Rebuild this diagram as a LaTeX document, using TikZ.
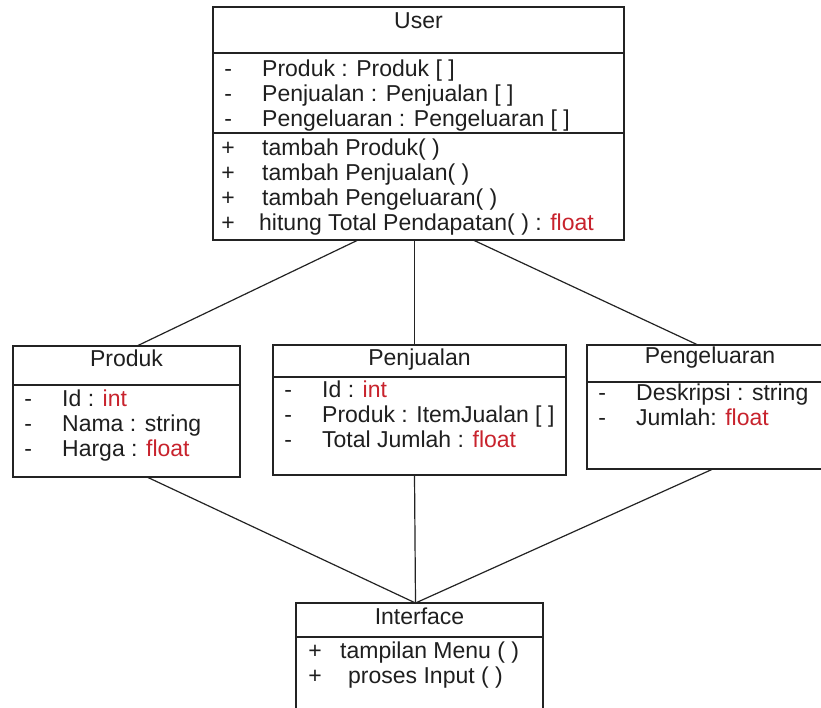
\documentclass[tikz,border=0pt]{standalone}
\usepackage{fontspec}
\setmainfont{Liberation Sans}
\usepackage{tikz}
\usetikzlibrary{positioning,calc}

\definecolor{typered}{RGB}{200,35,45}
\definecolor{linegray}{RGB}{35,35,35}
\newcommand{\umlrow}[2]{\rule{0pt}{17pt}\makebox[30pt]{#1}\hspace{19pt}#2}
\newcommand{\ty}[1]{\textcolor{typered}{#1}}

\begin{document}
\begin{tikzpicture}[x=1pt,y=-1pt,
	compart/.style={draw=linegray,line width=1.5pt,anchor=north west,inner sep=0pt,outer sep=0pt},
	classname/.style={anchor=base,inner sep=0pt,text=black!88,font=\fontsize{23}{25}\selectfont},
	members/.style={anchor=north west,inner sep=0pt,align=left,text=black!88,font=\fontsize{23}{25}\selectfont},
	assoc/.style={draw=linegray,line width=1.2pt}]
	\useasboundingbox[fill=white] (0,0) rectangle (821,708);
	
	% User
	\node[compart,minimum width=411pt,minimum height=46pt] (user) at (213,7) {};
	\node[compart,minimum width=411pt,minimum height=80pt] (userattr) at (user.south west) {};
	\node[compart,minimum width=411pt,minimum height=107pt] (usermeth) at (userattr.south west) {};
	\node[classname] (usertitle) at ([yshift=-22pt]user.north) {User};
	\node[members] (userattrtxt) at ([yshift=-6pt]userattr.north west) {\umlrow{-}{Produk : Produk [ ]}\\ \umlrow{-}{Penjualan : Penjualan [ ]}\\ \umlrow{-}{Pengeluaran : Pengeluaran [ ]}};
	\node[members] (usermethtxt) at ([yshift=-5pt]usermeth.north west) {\umlrow{+}{tambah Produk( )}\\ \umlrow{+}{tambah Penjualan( )}\\ \umlrow{+}{tambah Pengeluaran( )}\\ \umlrow{+}{\hspace{-3pt}hitung Total Pendapatan( ) : \ty{float}}};
	
	% Produk
	\node[compart,minimum width=227pt,minimum height=39pt] (produk) at (13,346) {};
	\node[compart,minimum width=227pt,minimum height=92pt] (produkattr) at (produk.south west) {};
	\node[classname] (produktitle) at ([yshift=-20pt]produk.north) {Produk};
	\node[members] (produkattrtxt) at ([yshift=-4pt]produkattr.north west) {\umlrow{-}{Id : \ty{int}}\\ \umlrow{-}{Nama : string}\\ \umlrow{-}{Harga : \ty{float}}};
	
	% Penjualan
	\node[compart,minimum width=293pt,minimum height=32pt] (penj) at (273,345) {};
	\node[compart,minimum width=293pt,minimum height=98pt] (penjattr) at (penj.south west) {};
	\node[classname] (penjtitle) at ([yshift=-20pt]penj.north) {Penjualan};
	\node[members] (penjattrtxt) at ([yshift=-3pt]penjattr.north west) {\umlrow{-}{Id : \ty{int}}\\ \umlrow{-}{Produk : ItemJualan [ ]}\\ \umlrow{-}{Total Jumlah : \ty{float}}};
	
	% Pengeluaran
	\node[compart,minimum width=246pt,minimum height=37pt] (pengel) at (587,345) {};
	\node[compart,minimum width=246pt,minimum height=87pt] (pengelattr) at (pengel.south west) {};
	\node[classname] (pengeltitle) at ([yshift=-18pt]pengel.north) {Pengeluaran};
	\node[members] (pengelattrtxt) at ([yshift=-1pt]pengelattr.north west) {\umlrow{-}{Deskripsi : string}\\ \umlrow{-}{Jumlah: \ty{float}}};
	
	% Interface
	\node[compart,minimum width=247pt,minimum height=34pt] (iface) at (296,603) {};
	\node[compart,minimum width=247pt,minimum height=90pt] (ifacemeth) at (iface.south west) {};
	\node[classname] (ifacetitle) at ([yshift=-21pt]iface.north) {Interface};
	\node[members] (ifacemethtxt) at ([yshift=-4pt]ifacemeth.north west) {\rule{0pt}{17pt}\makebox[38pt]{+}\hspace{6pt}tampilan Menu ( )\\ \rule{0pt}{17pt}\makebox[38pt]{+}\hspace{14pt}proses Input ( )};
	
	% associations
	\coordinate (meet) at ([xshift=-4pt]iface.north);
	\draw[assoc] ($(usermeth.south west)!0.353!(usermeth.south east)$) -- ($(produk.north west)!0.546!(produk.north east)$);
	\draw[assoc] ([xshift=-4pt]usermeth.south) -- ([xshift=-5pt]penj.north);
	\draw[assoc] ($(usermeth.south west)!0.633!(usermeth.south east)$) -- ($(pengel.north west)!0.451!(pengel.north east)$);
	\draw[assoc] ($(produkattr.south west)!0.59!(produkattr.south east)$) -- (meet);
	\draw[assoc] ([xshift=-5pt]penjattr.south) -- (meet);
	\draw[assoc] ($(pengelattr.south west)!0.512!(pengelattr.south east)$) -- (meet);
\end{tikzpicture}
\end{document}
